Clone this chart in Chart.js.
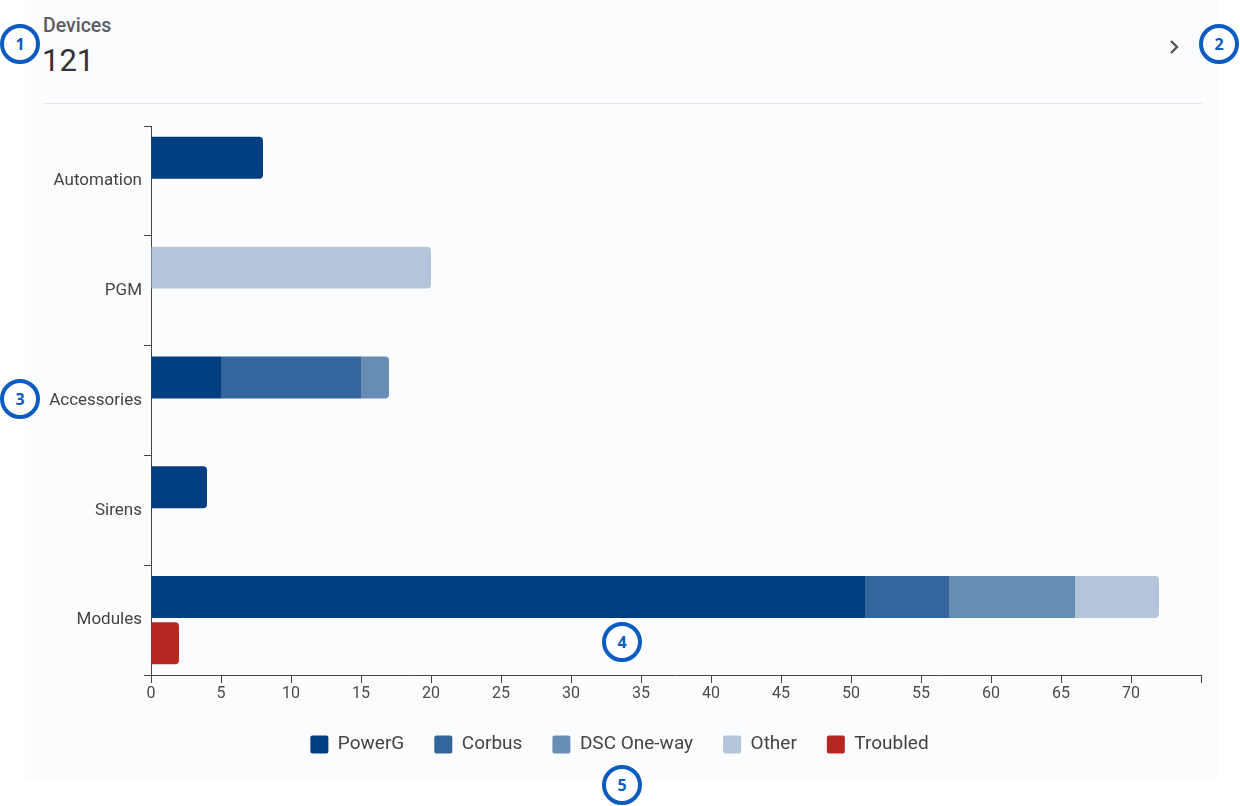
<!DOCTYPE html>
<html>
<head>
<meta charset="utf-8">
<script src="https://cdn.jsdelivr.net/npm/chart.js@4.4.1/dist/chart.umd.min.js"></script>
<style>
  body { margin: 0; width: 1240px; height: 806px; background: #fff; font-family: Roboto, "Noto Sans", sans-serif; position: relative; overflow: hidden; }
  #card { position: absolute; left: 25px; top: 0; width: 1193px; height: 778px; background: #fbfcfe; }
  #title { position: absolute; left: 43px; top: 14px; font-size: 19.5px; font-weight: 500; color: #5a5d62; }
  #total { position: absolute; left: 42px; top: 42px; font-size: 31px; color: #333; }
  #chev { position: absolute; left: 1168px; top: 39px; }
  #divider { position: absolute; left: 43px; top: 103px; width: 1159px; height: 1px; background: #e3e5e9; }
  #wrap { position: absolute; left: 25px; top: 110px; width: 1195px; height: 668px; }
  .callout { position: absolute; width: 32px; height: 32px; border: 4px solid #0b5cc0; border-radius: 50%; background: #fff;
    color: #0b5cc0; font: 700 16px "Open Sans", sans-serif; display: flex; align-items: center; justify-content: center; box-sizing: content-box; }
</style>
</head>
<body>
<div id="card"></div>
<div id="title">Devices</div>
<div id="total">121</div>
<svg id="chev" width="14" height="16" viewBox="0 0 14 16"><path d="M3 2 L9 8 L3 14" fill="none" stroke="#555" stroke-width="2.4"/></svg>
<div id="divider"></div>
<div id="wrap"><canvas id="myChart"></canvas></div>

<div class="callout" style="left:0px;top:24px">1</div>
<div class="callout" style="left:1199px;top:24px">2</div>
<div class="callout" style="left:0px;top:379px">3</div>
<div class="callout" style="left:602px;top:622px">4</div>
<div class="callout" style="left:602px;top:765px">5</div>

<script>
const categories = ['Automation', 'PGM', 'Accessories', 'Sirens', 'Modules'];
const powerG    = [8, 0, 5, 4, 51];
const corbus    = [0, 0, 10, 0, 6];
const dscOneWay = [0, 0, 2, 0, 9];
const other     = [0, 20, 0, 0, 6];
const troubled  = [0, 0, 0, 0, 2];
const xTicksMax = 75;

const barColors = ['#023e80', '#33669a', '#678db5', '#b3c5da', '#b5271f'];
const seriesNames = ['PowerG', 'Corbus', 'DSC One-way', 'Other', 'Troubled'];
const seriesData = [powerG, corbus, dscOneWay, other, troubled];
const stacks = ['devices', 'devices', 'devices', 'devices', 'troubled'];

// round only the end of each stack
function endRadius(ctx) {
  const i = ctx.dataIndex, d = ctx.datasetIndex;
  if (!seriesData[d][i]) return 0;
  for (let k = d + 1; k < seriesData.length; k++) {
    if (stacks[k] == stacks[d] && seriesData[k][i]) return 0;
  }
  return 4;
}

const datasets = seriesNames.map((name, k) => ({
  label: name,
  data: seriesData[k],
  backgroundColor: barColors[k],
  stack: stacks[k],
  borderRadius: endRadius,
  borderSkipped: 'start',
  categoryPercentage: 0.84,
  barPercentage: 0.91
}));

new Chart(document.getElementById('myChart').getContext('2d'), {
  type: 'bar',
  data: { labels: categories, datasets: datasets },
  options: {
    indexAxis: 'y',
    responsive: true,
    maintainAspectRatio: false,
    animation: false,
    layout: { padding: { top: 16, right: 19, left: 13, bottom: 14 } },
    scales: {
      x: {
        stacked: true,
        min: 0,
        max: xTicksMax,
        ticks: {
          stepSize: 5,
          color: '#4a4a4a',
          font: { family: 'Roboto', size: 16 },
          padding: 1,
          callback: v => v == xTicksMax ? '' : v
        },
        grid: { drawOnChartArea: false, tickLength: 8, color: '#444' },
        border: { color: '#444' },
        afterFit: s => { s.height = 30 }
      },
      y: {
        stacked: true,
        ticks: { color: '#444', font: { family: 'Roboto', size: 17 }, padding: 2 },
        grid: { drawOnChartArea: false, tickLength: 7, color: '#444' },
        border: { color: '#444' },
        afterFit: s => { s.width = 113 }
      }
    },
    plugins: {
      tooltip: { enabled: false },
      legend: {
        position: 'bottom',
        labels: {
          color: '#444',
          font: { family: 'Roboto', size: 19 },
          boxWidth: 18,
          boxHeight: 18,
          useBorderRadius: true,
          borderRadius: 2,
          padding: 30
        }
      }
    }
  }
});
</script>
</body>
</html>
